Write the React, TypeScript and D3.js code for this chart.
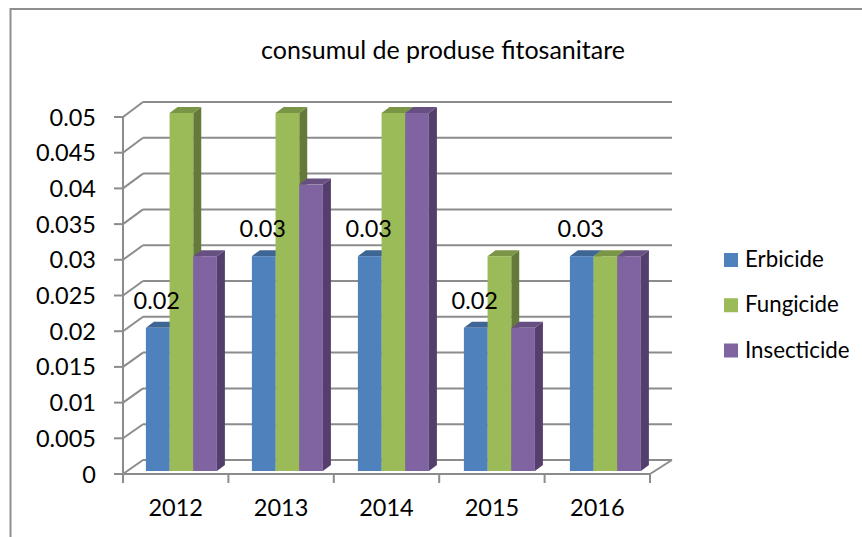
import React from "react";
import * as d3 from "d3";

const categories = ["2012", "2013", "2014", "2015", "2016"];
const seriesNames = ["Erbicide", "Fungicide", "Insecticide"];
const erbicide = [0.02, 0.03, 0.03, 0.02, 0.03];
const fungicide = [0.05, 0.05, 0.05, 0.03, 0.03];
const insecticide = [0.03, 0.04, 0.05, 0.02, 0.03];
const yTicks = [0, 0.005, 0.01, 0.015, 0.02, 0.025, 0.03, 0.035, 0.04, 0.045, 0.05];
const title = "consumul de produse fitosanitare";

const faces = [
  { front: "#4f81bd", top: "#3e6695", side: "#395d87" },
  { front: "#9bbb59", top: "#7b9546", side: "#657a3a" },
  { front: "#8064a2", top: "#664f81", side: "#543f6c" },
];
const FONT = "Lato, Carlito, sans-serif";
const GRID = "#8c8c8c";
const allSeries = [erbicide, fungicide, insecticide];

export default function App() {
  const yFront = d3.scaleLinear().domain([0, 0.05]).range([474, 117]);
  const yBack = d3.scaleLinear().domain([0, 0.05]).range([460, 102]);
  const yBar = d3.scaleLinear().domain([0, 0.05]).range([471, 113]);
  const xAxis = d3.scaleBand<string>().domain(categories).range([123, 650]);
  const xGroup = d3
    .scaleBand<string>()
    .domain(categories)
    .range([128.4, 658.4])
    .paddingInner(0.33)
    .paddingOuter(0.165);
  const xSeries = d3
    .scaleBand<string>()
    .domain(seriesNames)
    .range([0, xGroup.bandwidth()]);
  const depthX = 8;
  const depthY = 6;
  const w = xSeries.bandwidth();
  const axisLine = { stroke: GRID, strokeWidth: 2, fill: "none" };

  return (
    <svg
      width={862}
      height={537}
      style={{ position: "absolute", left: 0, top: 0, background: "#fff" }}
    >
      <path d="M10.5,537V9H862" fill="none" stroke="#8f8f8f" strokeWidth={2} />
      <text x={443} y={59} textAnchor="middle" fontFamily={FONT} fontSize={25} fill="#000">
        {title}
      </text>

      {yTicks.map((t) => (
        <g key={t}>
          <line x1={143} x2={672} y1={yBack(t)} y2={yBack(t)} {...axisLine} />
          <line x1={123} x2={143} y1={yFront(t)} y2={yBack(t)} {...axisLine} />
          <line x1={114} x2={123} y1={yFront(t)} y2={yFront(t)} {...axisLine} />
          <text
            x={96}
            y={yFront(t) + 8.5}
            textAnchor="end"
            fontFamily={FONT}
            fontSize={23.5}
            fill="#000"
          >
            {String(t)}
          </text>
        </g>
      ))}
      <line x1={123} x2={123} y1={yFront(0.05)} y2={yFront(0)} {...axisLine} />
      <line x1={123} x2={650} y1={yFront(0)} y2={yFront(0)} {...axisLine} />
      <line x1={650} x2={672} y1={yFront(0)} y2={yBack(0)} {...axisLine} />
      {[...categories.map((c) => xAxis(c)!), 650].map((x) => (
        <line key={x} x1={x} x2={x} y1={474} y2={483} {...axisLine} />
      ))}
      {categories.map((c) => (
        <text
          key={c}
          x={xAxis(c)! + xAxis.bandwidth() / 2}
          y={516}
          textAnchor="middle"
          fontFamily={FONT}
          fontSize={23.5}
          fill="#000"
        >
          {c}
        </text>
      ))}

      {categories.map((c, i) =>
        seriesNames.map((s, k) => {
          const v = allSeries[k][i];
          const x = xGroup(c)! + xSeries(s)!;
          const yT = yBar(v);
          const yB = yBar(0);
          const f = faces[k];
          return (
            <g key={c + s}>
              <path
                d={`M${x + w},${yT}L${x + w + depthX},${yT - depthY}V${yB - depthY}L${x + w},${yB}Z`}
                fill={f.side}
              />
              <path
                d={`M${x},${yT}L${x + depthX},${yT - depthY}H${x + w + depthX}L${x + w},${yT}Z`}
                fill={f.top}
              />
              <rect x={x} y={yT} width={w} height={yB - yT} fill={f.front} />
            </g>
          );
        })
      )}

      {categories.map((c, i) => (
        <text
          key={c}
          x={xGroup(c)! + xSeries(seriesNames[0])! + w / 2 - 1}
          y={yBar(erbicide[i]) - 19}
          textAnchor="middle"
          fontFamily={FONT}
          fontSize={23.5}
          fill="#000"
        >
          {String(erbicide[i])}
        </text>
      ))}

      {seriesNames.map((s, k) => {
        const rowY = d3.scaleLinear().domain([0, 2]).range([260, 350.5])(k);
        return (
          <g key={s}>
            <rect x={724} y={rowY - 7} width={14} height={14} fill={faces[k].front} />
            <text x={745} y={rowY + 7} fontFamily={FONT} fontSize={22.3} fill="#000">
              {s}
            </text>
          </g>
        );
      })}
    </svg>
  );
}
